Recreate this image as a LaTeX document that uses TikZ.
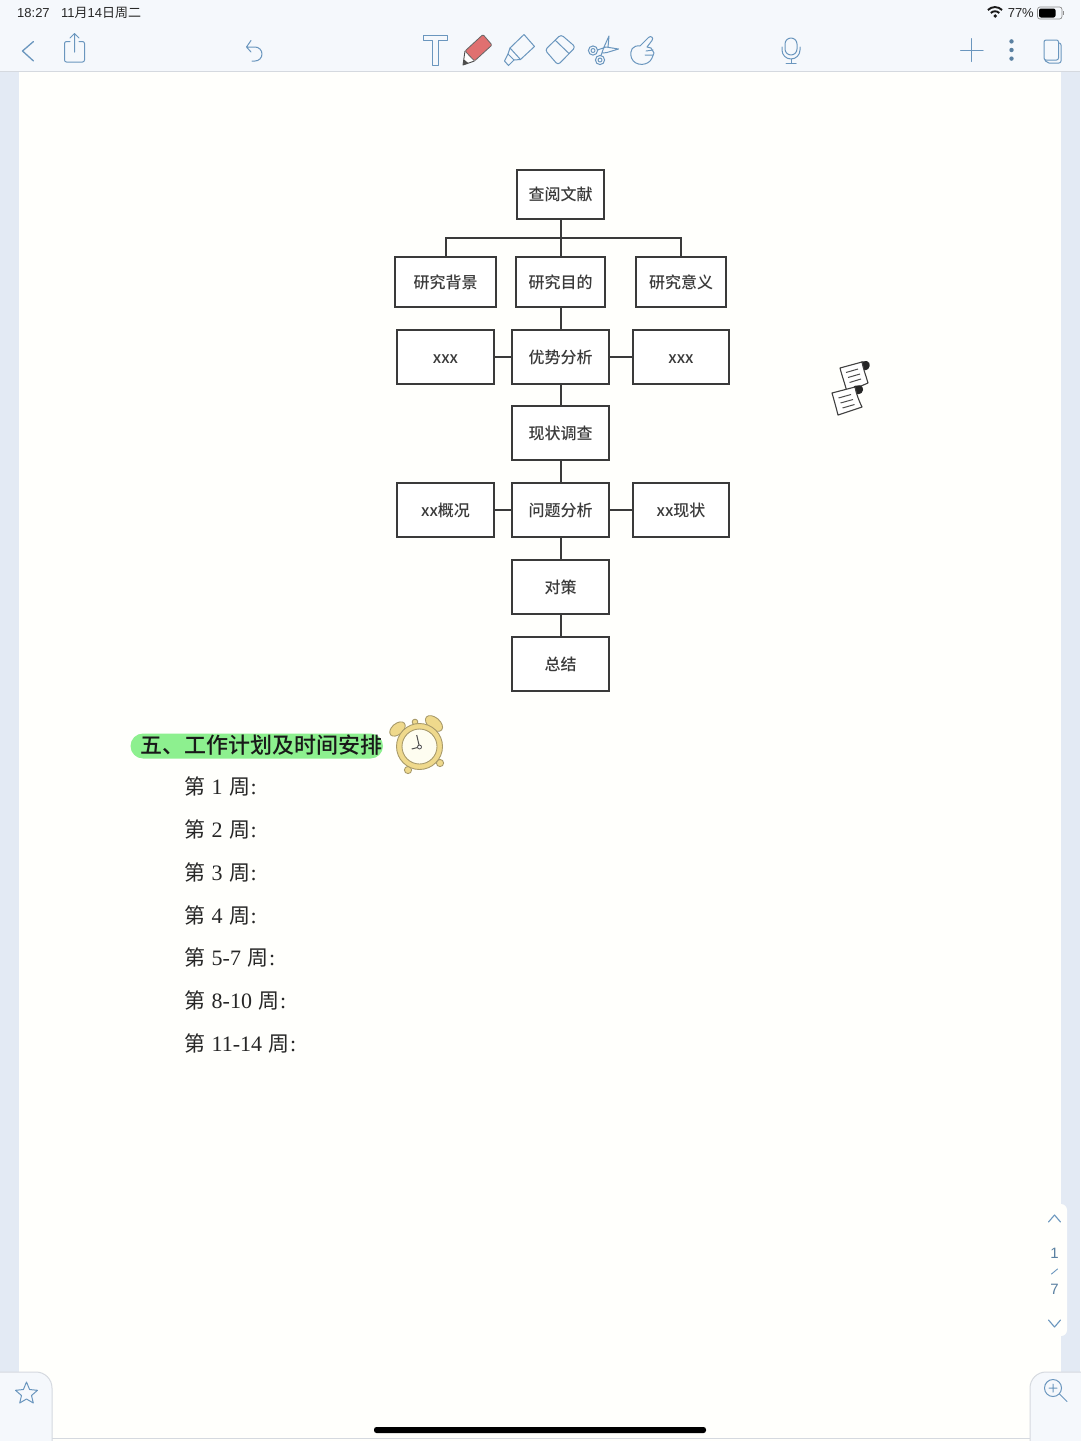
\documentclass[tikz,border=0pt]{standalone}
\usepackage{fontspec}
\setmainfont{Liberation Serif}
\newfontfamily\cjk{Noto Sans CJK SC}
\newfontfamily\cjkmid{Noto Sans CJK SC Medium}
\newfontfamily\uisans{Liberation Sans}
\usetikzlibrary{calc,positioning}
\definecolor{sidebg}{HTML}{E3EAF4}
\definecolor{barbg}{HTML}{F5F8FC}
\definecolor{barline}{HTML}{D5D9DF}
\definecolor{iconblue}{HTML}{6A96BE}
\definecolor{inkdark}{HTML}{3A3A3A}
\definecolor{marker}{HTML}{8DF08F}
\definecolor{bell}{HTML}{EFD98C}
\definecolor{bellline}{HTML}{A89A6A}
\tikzset{
  chartbox/.style={draw=inkdark,line width=2pt,fill=white,inner sep=0pt,
    text height=13pt,text depth=0pt,
    font=\cjkmid\fontsize{16}{16}\selectfont,text=inkdark,anchor=center},
  wide/.style={chartbox,minimum width=96.4pt,minimum height=54pt},
  link/.style={draw=inkdark,line width=2pt},
  weekline/.style={anchor=west,inner sep=0pt,font=\fontsize{22}{22}\selectfont,text=black!85},
  icon/.style={draw=iconblue,line width=1pt,line cap=round,line join=round},
  status/.style={inner sep=0pt,font=\uisans\fontsize{13}{13}\selectfont,text=black!85},
  scrollsheet/.style={fill=white,draw=black!75,line width=1.1pt,line join=round},
  scrollrule/.style={draw=black!70,line width=1pt},
  bellpart/.style={fill=bell,draw=bellline,line width=.9pt},
}
\newcommand{\zhou}[1]{{\cjk\fontsize{21}{21}\selectfont #1}}
\newcommand{\weekrow}[1]{\zhou{第}\kern1pt\ #1\ \kern1pt\zhou{周}\kern.5pt:}
\begin{document}
\begin{tikzpicture}[x=1pt,y=-1pt]
\useasboundingbox (0,0) rectangle (1080,1441);
% window and page
\fill[sidebg] (0,0) rectangle (1080,1441);
\fill[white!99!yellow] (19,72) rectangle (1061,1441);
\fill[barbg] (0,0) rectangle (1080,71);
\draw[barline,line width=1pt] (0,71.5) -- (1080,71.5);

% status bar
\node[status,anchor=west] (clock) at (17,13) {18:27};
\node[status,anchor=west] (date) at (61,13) {11\cjk 月\uisans 14\cjk 日周二};
\node[status,anchor=east] (batt) at (1034,13) {77\%};
\draw[black!90,line width=1.9pt] (987.9,10) arc (225:315:10);
\draw[black!90,line width=1.9pt] (990.8,13) arc (225:315:6);
\fill[black!90] (995.3,16) circle (1.9);
\draw[black!45,line width=.7pt,rounded corners=2.5pt] (1037.5,7) rectangle (1062,19);
\fill[black,rounded corners=2pt] (1039,8.5) rectangle (1055.5,17.5);
\fill[black!45] (1063,11) rectangle (1064,15);

% toolbar, left part
\draw[icon,line width=1.3pt] (33.5,41.5) -- (22.5,51) -- (33.5,61);
\draw[icon,rounded corners=2pt] (70,41.5) -- (64.5,41.5) -- (64.5,62) -- (84.5,62) -- (84.5,41.5) -- (79,41.5);
\draw[icon] (74.5,52) -- (74.5,33.5) (70,38) -- (74.5,33.5) -- (79,38);
\draw[icon] (251,40.5) -- (246.5,47) -- (251,52) (246.5,47) -- (255,47) arc (-90:90:7) -- (252,61);
\draw[icon] (423.5,35.5) -- (447,35.5) -- (447,40.5) -- (438.5,40.5) -- (438.5,65.5) -- (432,65.5) -- (432,40.5) -- (423.5,40.5) -- cycle;

% red pencil
\fill[white] (465,51) -- (474.5,61) -- (463,65) -- cycle;
\fill[black!70] (463,65) -- (464,59.5) -- (468.5,63.2) -- cycle;
\draw[black!70,line width=.9pt,line join=round] (465,51) -- (463,65) -- (474.5,61);
\fill[red!50!white!88!black,draw=black!60,line width=.8pt,rounded corners=1.2pt]
  (465,51) -- (483,34.5) -- (492,45) -- (474.5,61) -- cycle;

% highlighter
\draw[icon] (524,34.5) -- (534.5,46.5) -- (520.5,59.5) -- (514,60) -- (508,54) -- (510,48) -- cycle;
\draw[icon] (510,48) -- (520.5,59.5);
\draw[icon] (508,54) -- (504.5,61) -- (508.5,65.5) -- (514,60);
% eraser
\draw[icon,rounded corners=3pt] (545,50) -- (561,34.5) -- (575.5,47) -- (558,65) -- cycle;
\draw[icon] (555.5,40.5) -- (569,53.5);
% scissors
\draw[icon] (593,50.5) circle (4.6) (593,50.5) circle (2) (600,60) circle (4.6) (600,60) circle (2);
\draw[icon] (597.5,50) -- (606,47) -- (618.5,49) -- (607,52.5) -- (603,53) (601,55.5) -- (604,47) -- (609,36) -- (608,47.5);
% pointing hand
\draw[icon] (640,46) -- (648.5,37.5) .. controls (651,35) and (654,38) .. (652,40.5) -- (647,47)
  -- (651,48) -- (654,53) -- (652,58) .. controls (649,66) and (635,67) .. (631.5,58)
  .. controls (629,50) and (633,45) .. (640,46);
\draw[icon] (646,51) -- (653,50) (645,55) -- (653,55);
% microphone
\draw[icon] (785,44) arc (180:360:6) -- (797,49) arc (0:180:6) -- cycle;
\draw[icon] (782,47) -- (782,50) arc (180:0:9) -- (800,47);
\draw[icon] (791,59) -- (791,63) (786,63) -- (796,63);
% plus, dots, pages
\draw[icon] (960.5,50) -- (983,50) (971.7,38.5) -- (971.7,61.5);
\foreach \dy in {41.4,50,58.6}
  \fill[iconblue!85!black] (1011.5,\dy) circle (2.2);
\draw[icon,rounded corners=2pt] (1058.5,43) -- (1061,43) -- (1061,63) -- (1047,63) -- (1045,60);
\draw[icon,rounded corners=2pt,fill=barbg] (1044,40) rectangle (1058.5,60);

% flow chart
\node[chartbox,minimum width=86.4pt,minimum height=48.4pt] (lit) at (560.5,194.3) {查阅文献};
\node[chartbox,minimum width=100.6pt,minimum height=50pt] (bg) at (445.5,281.5) {研究背景};
\node[chartbox,minimum width=89.6pt,minimum height=50pt] (aim) at (560.5,281.5) {研究目的};
\node[chartbox,minimum width=89.6pt,minimum height=50pt] (sig) at (681,281.5) {研究意义};
\node[wide] (xl) at (445.5,356.8) {xxx};
\node[wide] (adv) at (560.5,356.8) {优势分析};
\node[wide] (xr) at (681,356.8) {xxx};
\node[wide] (cur) at (560.5,433.4) {现状调查};
\node[wide] (gl) at (445.5,510.3) {xx概况};
\node[wide] (prob) at (560.5,510.3) {问题分析};
\node[wide] (gr) at (681,510.3) {xx现状};
\node[wide] (cm) at (560.5,587.2) {对策};
\node[wide] (sm) at (560.5,663.8) {总结};
\coordinate (bus) at (560.5,238);
\path[link] (lit.south) -- (aim.north);
\path[link] (bg.north) |- (bus) -| (sig.north);
\path[link] (aim.south) -- (adv.north);
\path[link] (xl) -- (adv) (adv) -- (xr);
\path[link] (adv) -- (cur);
\path[link] (cur) -- (prob);
\path[link] (gl) -- (prob) (prob) -- (gr);
\path[link] (prob) -- (cm);
\path[link] (cm) -- (sm);

% scrolls beside the chart
\fill[black!85,rounded corners=2pt] (860,361.5) -- (869,361) -- (870,368) -- (864,371) -- cycle;
\draw[scrollsheet] (840,368) -- (862,362) .. controls (863,368) and (866,376) .. (868,383) -- (847,392) .. controls (845,384) and (842,376) .. (840,368) -- cycle;
\draw[scrollrule] (846,372.5) -- (858,369) (848,377.5) -- (860,374) (849.5,382.5) -- (861,379);
\fill[black!85,rounded corners=2pt] (853,386) -- (862,385) -- (863.5,392) -- (857,395) -- cycle;
\draw[scrollsheet] (832,393) -- (855,387) .. controls (856,393) and (859,401) .. (862,407) -- (838,415) .. controls (836,407) and (834,400) .. (832,393) -- cycle;
\draw[scrollrule] (838.5,398) -- (851,394.5) (840.5,403) -- (853,399.5) (842.5,408) -- (854.5,404.5);

% section heading
\fill[marker,rounded corners=12.5pt] (130.5,733.5) rectangle (383,758.5);
\node[inner sep=0pt,anchor=west,font=\cjkmid\fontsize{22}{22}\selectfont,text=black!90] (head) at (140,745) {五、工作计划及时间安排};

% alarm clock
\fill[bellpart,rotate around={40:(397.5,729)}] (397.5,729) ellipse (9 and 5.5);
\fill[bellpart,rotate around={-40:(434,723.5)}] (434,723.5) ellipse (10 and 6);
\fill[bellpart] (415,722) circle (2.8);
\fill[bellpart] (408,770) circle (3.6);
\fill[bellpart] (440,763) circle (3.6);
\fill[bellpart] (419.5,746.5) circle (23);
\fill[black!7!yellow!6!white,draw=bellline,line width=.9pt] (419.5,746.5) circle (17.5);
\draw[black!70,line width=1pt] (416.7,735) -- (419.5,747) -- (411.7,749);
\draw[black!70,line width=.8pt,fill=white] (419.5,747) circle (2);

% weekly plan
\node[weekline] (w1) at (184,787) {\weekrow{1}};
\node[weekline] (w2) at (184,830) {\weekrow{2}};
\node[weekline] (w3) at (184,872.5) {\weekrow{3}};
\node[weekline] (w4) at (184,915.5) {\weekrow{4}};
\node[weekline] (w5) at (184,958) {\weekrow{5-7}};
\node[weekline] (w6) at (184,1001) {\weekrow{8-10}};
\node[weekline] (w7) at (184,1043.5) {\weekrow{11-14}};

% page indicator
\fill[white!99!yellow,rounded corners=6pt] (1050,1204) rectangle (1067,1336);
\draw[icon,line width=1.1pt] (1048.5,1222) -- (1054.5,1215) -- (1060.5,1222);
\node[inner sep=0pt,text=iconblue!85!black,font=\uisans\fontsize{15}{15}\selectfont] (pgn) at (1054.5,1253) {1};
\draw[icon,line width=.9pt] (1051.5,1274) -- (1057.5,1269);
\node[inner sep=0pt,text=iconblue!85!black,font=\uisans\fontsize{15}{15}\selectfont] (pgt) at (1054.5,1289) {7};
\draw[icon,line width=1.1pt] (1048.5,1320) -- (1054.5,1327) -- (1060.5,1320);

% bottom corner panels
\draw[barline,line width=1pt] (52,1438.5) -- (1030,1438.5);
\filldraw[fill=barbg,draw=barline,line width=1pt] (-2,1372) -- (36,1372) arc (-90:0:16) -- (52,1443) -- (-2,1443) -- cycle;
\filldraw[fill=barbg,draw=barline,line width=1pt] (1082,1372) -- (1046,1372) arc (-90:-180:16) -- (1030,1443) -- (1082,1443) -- cycle;
\draw[icon] (26.5,1382) -- (29.6,1389.5) -- (37.5,1390.3) -- (31.5,1395.5) -- (33.3,1403) -- (26.5,1399) -- (19.7,1403) -- (21.5,1395.5) -- (15.5,1390.3) -- (23.4,1389.5) -- cycle;
\draw[icon] (1053,1388) circle (8.5) (1049,1388) -- (1057,1388) (1053,1384) -- (1053,1392) (1059.5,1394) -- (1067,1401.5);
\fill[black,rounded corners=2.5pt] (374,1427) rectangle (706,1433);
\end{tikzpicture}
\end{document}
